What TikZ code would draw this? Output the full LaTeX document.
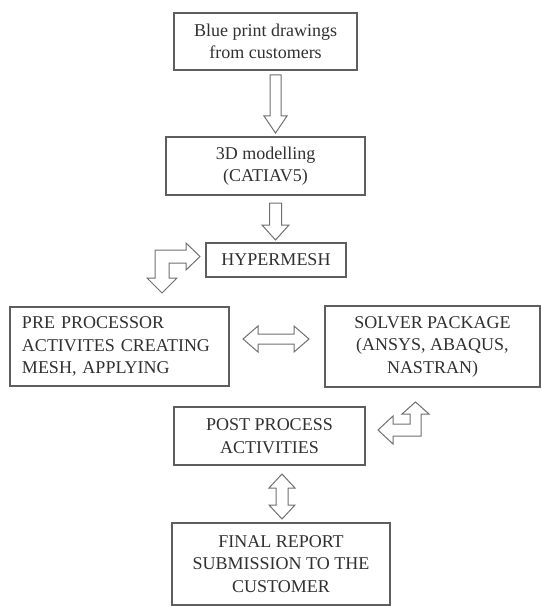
\documentclass[tikz,border=0pt]{standalone}
\usepackage{fontspec}
\setmainfont{Liberation Serif}
\definecolor{boxline}{HTML}{5E5E5E}
\definecolor{arrline}{HTML}{707070}
\definecolor{txt}{HTML}{303030}
\begin{document}
\begin{tikzpicture}[x=1bp,y=-1bp,
  box/.style={draw=boxline, line width=1.4bp, inner sep=0pt, align=center, text=txt,
    font=\fontsize{18bp}{22.5bp}\selectfont},
  blockarrow/.style={draw=arrline, line width=1bp, fill=white, line join=miter}]
\useasboundingbox (0,0) rectangle (541,606);

\node[box, minimum width=183bp, minimum height=57bp] (blue) at (265.5,41.5) {Blue print drawings\\from customers};
\node[box, minimum width=199bp, minimum height=58bp] (model) at (265.5,166) {3D modelling\\(CATIAV5)};
\node[box, minimum width=140bp, minimum height=34bp] (hyper) at (276,260) {HYPERMESH};
\node[box, minimum width=219bp, minimum height=79bp, text width=195bp, inner xsep=12bp, align=left] (pre) at (119.5,346.5) {PRE PROCESSOR\\ACTIVITES CREATING\\MESH, APPLYING};
\node[box, minimum width=215bp, minimum height=81bp] (solver) at (432.5,346.5) {SOLVER PACKAGE\\(ANSYS, ABAQUS,\\NASTRAN)};
\node[box, minimum width=191bp, minimum height=58bp] (post) at (269.5,436) {POST PROCESS\\ACTIVITIES};
\node[box, minimum width=218bp, minimum height=82bp] (final) at (281,564) {FINAL REPORT\\SUBMISSION TO THE\\CUSTOMER};

% down arrow blue -> model
\draw[blockarrow] (270,75) -- (281,75) -- (281,116) -- (287,116) -- (275.5,133) -- (264,116) -- (270,116) -- cycle;
% down arrow model -> hyper
\draw[blockarrow] (269.5,203) -- (281.5,203) -- (281.5,225) -- (289,225) -- (275.5,240) -- (262,225) -- (269.5,225) -- cycle;
% bent arrow hyper <-> pre
\draw[blockarrow] (200,256.5) -- (186,243) -- (186,250) -- (155,250) -- (155,278) -- (147,278) -- (162,293) -- (177,278) -- (169,278) -- (169,263) -- (186,263) -- (186,270) -- cycle;
% horizontal double arrow pre <-> solver
\draw[blockarrow] (243,339) -- (258,326) -- (258,334) -- (294,334) -- (294,326) -- (309,339) -- (294,352) -- (294,344) -- (258,344) -- (258,352) -- cycle;
% bent arrow solver <-> post
\draw[blockarrow] (415.5,402) -- (429,414) -- (421,414) -- (421,436) -- (393,436) -- (393,444) -- (378,430) -- (393,416) -- (393,424) -- (410,424) -- (410,414) -- (402,414) -- cycle;
% vertical double arrow post <-> final
\draw[blockarrow] (282,474) -- (295,488) -- (288,488) -- (288,505) -- (295,505) -- (282,519) -- (269,505) -- (276,505) -- (276,488) -- (269,488) -- cycle;
\end{tikzpicture}
\end{document}
